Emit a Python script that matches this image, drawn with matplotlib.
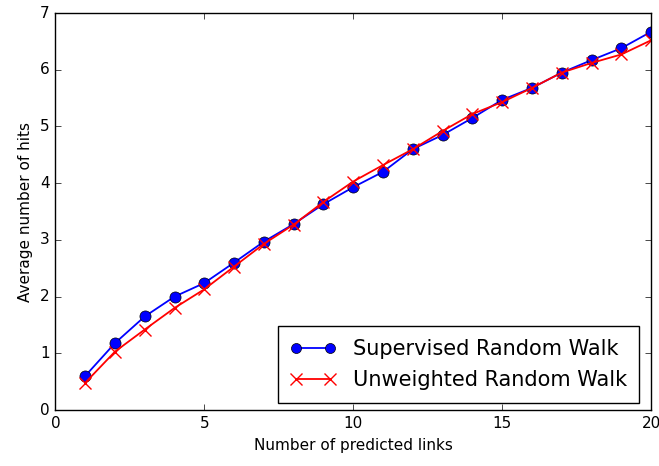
import numpy as np
import matplotlib
matplotlib.use("Agg")
import matplotlib.pyplot as plt

plt.style.use('classic')

# number of predicted links
links = np.arange(1, 21)
# average hits
supervised = [0.60, 1.18, 1.65, 2.00, 2.24, 2.60, 2.97, 3.28, 3.63, 3.93,
              4.20, 4.60, 4.85, 5.15, 5.47, 5.68, 5.95, 6.17, 6.38, 6.67]
unweighted = [0.48, 1.03, 1.42, 1.80, 2.13, 2.53, 2.93, 3.27, 3.67, 4.03,
              4.32, 4.60, 4.92, 5.22, 5.43, 5.68, 5.95, 6.12, 6.27, 6.52]

fig = plt.figure(figsize=(6.59, 4.66), dpi=100, facecolor='white')
ax = fig.add_axes([0.084, 0.12, 0.904, 0.852])

ax.plot(links, supervised, 'b-o', markersize=8, lw=1.3, label='Supervised Random Walk')
ax.plot(links, unweighted, 'r-x', markersize=9, lw=1.3, mew=1.0, label='Unweighted Random Walk')

ax.set_xlim(0, 20)
ax.set_ylim(0, 7)
ax.set_xticks([0, 5, 10, 15, 20])
ax.set_yticks(range(8))
ax.tick_params(labelsize=11)
ax.set_xlabel('Number of predicted links', fontsize=11)
ax.set_ylabel('Average number of hits', fontsize=11)
ax.legend(loc='lower right', bbox_to_anchor=(0.98, 0.018), borderaxespad=0,
          fontsize=15, numpoints=2, markerscale=0.9, labelspacing=0.55,
          borderpad=0.6, handlelength=2.2)

fig.savefig('out.png', dpi=100, facecolor='white')
